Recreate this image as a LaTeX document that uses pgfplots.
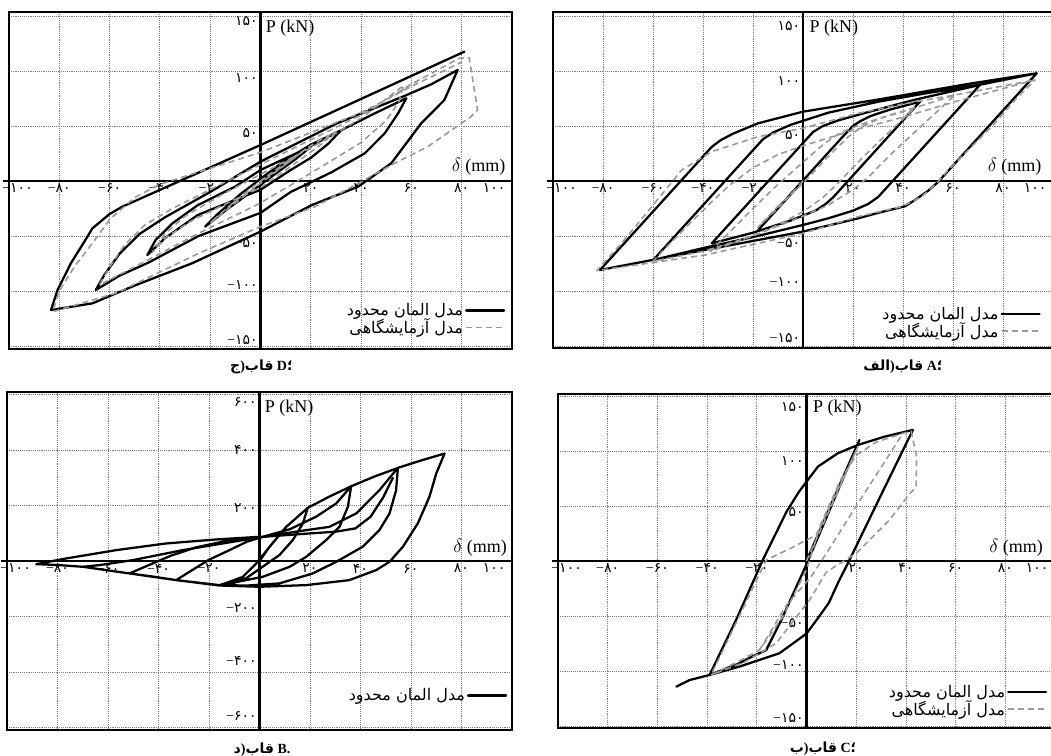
\documentclass[border=0pt]{standalone}
\usepackage{fontspec}
\setmainfont{Liberation Serif}
\newfontfamily\fa[Script=Arabic]{DejaVu Sans}
\TeXXeTstate=1
\usepackage{pgfplots}
\pgfplotsset{compat=1.18}

% Persian digits in their own box, minus sign kept outside in the text font
\newcommand\fd[1]{\hbox{\fa #1}}
\newcommand\mn{\hbox{−}}
% vertical nudge of a y tick label without changing its box
\newcommand\yl[2]{\raisebox{#1}[0pt][0pt]{#2}}
\newcommand\feleg{\hbox{\fa\beginR مدل المان محدود\endR}\hspace{6pt}}
\newcommand\exleg{\hbox{\fa\beginR مدل آزمایشگاهی\endR}\hspace{6pt}}

\tikzset{lbl/.style={inner sep=1pt, font=\fontsize{13.5}{14}\selectfont}}
\pgfplotsset{
  panel/.style={
    scale only axis, axis lines=center,
    axis line style={line width=1.9pt, -},
    xmin=-100, xmax=100,
    grid=major, grid style={densely dotted, black!50, line width=0.6pt},
    major tick length=0pt,
    tick label style={font=\fontsize{10.5}{11}\selectfont, inner sep=2pt},
    yticklabel style={anchor=east},
    xticklabel style={anchor=north},
    xtick={-100,-80,...,100},
    xticklabels={{\makebox[0pt][l]{\hspace{-5pt}\mn\fd{۱۰۰}}},{\mn\fd{۸۰}},{\mn\fd{۶۰}},{\mn\fd{۴۰}},{\mn\fd{۲۰}},{\makebox[0pt][r]{\fd{۰}\hspace{2pt}}},{\fd{۲۰}},{\fd{۴۰}},{\fd{۶۰}},{\fd{۸۰}},{\makebox[0pt][r]{\fd{۱۰۰}\hspace{5pt}}}},
    clip=false,
    legend plot pos=right,
    legend cell align=right,
    legend style={draw=none, fill=none, inner sep=0pt, row sep=-2pt,
      font=\fontsize{12}{13}\selectfont, anchor=south east,
      nodes={inner sep=1.5pt}},
    legend image code/.code={\draw[##1] (0cm,0cm) -- (1cm,0cm);},
  },
  fe/.style={black, line width=1.7pt, line join=round, line cap=round},
  ex/.style={black!40, line width=1.2pt, dash pattern=on 4.5pt off 3pt, line join=round},
}
\newcommand\frameit{%
  \draw[line width=2pt] (rel axis cs:0,0) rectangle (rel axis cs:1,1);
  \draw[line width=1.9pt] (axis cs:-102.5,0) -- (axis cs:-100,0);}

\begin{document}
\begin{tikzpicture}
\useasboundingbox (0,0) rectangle (788.25pt,567pt);

% ---------------- frame D (top left)
\begin{axis}[panel, at={(6.75pt,305.25pt)}, anchor=south west,
  width=377.25pt, height=252.75pt, ymin=-152.7, ymax=153.6,
  ytick={-150,-100,-50,50,100,150},
  yticklabels={{\yl{1.5pt}{\mn\fd{۱۵۰}}},{\yl{1.5pt}{\mn\fd{۱۰۰}}},{\yl{-8.5pt}{\mn\fd{۵۰}}},{\yl{-9pt}{\fd{۵۰}}},{\yl{-9pt}{\fd{۱۰۰}}},{\yl{-7.5pt}{\fd{۱۵۰}}}},
  legend style={at={(0.987,0.032)}}]
\addplot[fe] coordinates {(0,0) (10,16) (20,31) (14,20) (5,5) (-5,-12) (-14,-27) (-22,-41.5)
 (-17,-30) (-8,-12) (0,2) (10,19) (20,33) (32,46) (27,34) (20,21) (12,10) (0,-8) (-11,-18)
 (-25,-31) (-38,-52) (-45,-67.3) (-41.7,-53.6) (-35,-38.5) (-25,-22) (-10,-5) (0,10) (15,26)
 (32,46) (45,61) (58,75.2) (54.7,61.5) (49.4,43.3) (41.5,25.2) (28.3,8) (12,-10) (0,-29)
 (-24.6,-50) (-44.4,-74) (-56,-86) (-65.5,-99.1) (-62,-85) (-56,-66) (-48,-48) (-38,-33)
 (-20,-10) (0,17.6) (30,52) (58,78) (68,88) (78.4,100.9) (73.1,73.6) (63.9,52.4) (52,16.1)
 (38.8,-5.2) (20.3,-22) (0,-46) (-27.2,-74.8) (-50,-95) (-66.8,-111.2) (-83.3,-117.3)
 (-80.7,-99.1) (-75.4,-74.8) (-70,-55) (-66.8,-43) (-60,-30) (-54.9,-23.3) (0,32.7) (81.1,117.6)};
\addplot[ex] coordinates {(0,0) (10,15) (18,29) (10,15) (0,-2) (-10,-20) (-20,-38) (-12,-22)
 (0,0) (12,20) (22,35) (30,45) (24,33) (15,18) (0,-6) (-15,-22) (-28,-37) (-38,-52) (-43,-65)
 (-38,-48) (-30,-32) (-15,-12) (0,6) (20,30) (40,57) (57,87) (55,72) (50,55) (40,35) (25,14)
 (0,-20) (-25,-48) (-45,-72) (-64,-94.5) (-60,-78) (-54,-58) (-46,-40) (-35,-25) (0,15)
 (40,60) (60,88) (79,111.5) (83,112) (86.3,64.5) (83.7,58.5) (66.5,31.2) (53.3,16.1)
 (40.1,-0.6) (21.7,-23.3) (0,-41.5) (-24.6,-65.8) (-57.6,-102.1) (-82.6,-118.8) (-80,-100)
 (-74,-78) (-66,-54) (-60,-35) (-50,-15) (-40,-3) (0,26) (40,62) (60,86) (80,108)};
\addlegendentry{\feleg}
\addlegendentry{\exleg}
\frameit
\node[lbl, anchor=west] at (axis cs:1.5,139) {P (kN)};
\node[lbl, anchor=east] at (axis cs:98,12.7) {$\delta$ (mm)};
\end{axis}

% ---------------- frame A (top right)
\begin{axis}[panel, at={(414.75pt,306pt)}, anchor=south west,
  width=375pt, height=252pt, ymin=-151.8, ymax=153.6,
  ytick={-150,-100,-50,50,100,150},
  yticklabels={{\yl{3pt}{\mn\fd{۱۵۰}}},{\yl{3pt}{\mn\fd{۱۰۰}}},{\yl{-8.5pt}{\mn\fd{۵۰}}},{\yl{-10pt}{\fd{۵۰}}},{\yl{-11pt}{\fd{۱۰۰}}},{\yl{-11pt}{\fd{۱۵۰}}}},
  legend style={at={(0.976,0.018)}}]
\addplot[fe] coordinates {(0,0) (-17.9,-44.5) (0,0.5) (8,20.5) (16,40.5) (20,50) (23,54.5)
 (27,59) (35,65) (46.8,72.1) (18,0) (12,-15) (9,-21) (5,-27) (-5,-36) (-20,-47) (-36.5,-56.7)
 (4,44.5) (8,50) (14,55) (25,62) (45,74) (70.8,87.3) (30,-14.7) (26,-21) (20,-27) (10,-34)
 (0,-40) (-20,-51) (-40,-61) (-59.9,-71.8) (-16,38) (-12,44) (-5,51) (10,62) (30,72) (50,80)
 (70.8,87.5) (93.5,97.9) (54,-1) (50,-9) (45,-17) (40.8,-23) (30,-29) (22,-34) (0,-46)
 (-40,-63) (-81.2,-80.9) (-36.5,31) (-33,37) (-28,43) (-18,52.4) (0,63) (30,74) (66.8,88.5)
 (93.5,97.9)};
\addplot[ex] coordinates {(0,0) (-8,-20) (-18,-42) (-10,-23) (0,-2) (10,22) (18,40) (24,50)
 (32,58) (45,67) (38,52) (30,35) (22,17) (14,-2) (8,-15) (0,-28) (-12,-42) (-25,-54) (-37,-64)
 (-30,-48) (-20,-25) (-10,-3) (0,17) (8,33) (15,44) (25,53) (40,63) (60.8,78.2) (55,66)
 (45,45) (35,24) (26.8,5) (20,-8) (10,-22) (0,-32) (-20,-50) (-40,-64) (-60,-73) (-55,-61)
 (-45,-38) (-37,-20) (-30,-5) (-20,12) (-10,24) (0,32) (20,46) (40,58) (60.8,72) (80,84)
 (92.8,91.8) (84.8,73.6) (75.5,49.4) (66.1,28.2) (58.1,10) (54.1,-0.6) (47.5,-14.2)
 (39.5,-23.3) (22.1,-32.4) (0,-47.6) (-39.2,-67.3) (-82.5,-81.5) (-72,-55) (-60,-22)
 (-48.5,10) (-36.5,26.7) (-17.9,40.3) (0,47.9) (22,61.5) (40,70) (60.8,78.2) (92.8,91.8)};
\addlegendentry{\feleg}
\addlegendentry{\exleg}
\frameit
\node[lbl, anchor=west] at (axis cs:2,139) {P (kN)};
\node[lbl, anchor=east] at (axis cs:96,12.7) {$\delta$ (mm)};
\end{axis}

% ---------------- frame B (bottom left)
\begin{axis}[panel, at={(5.25pt,19.5pt)}, anchor=south west,
  width=378.75pt, height=253.5pt, ymin=-609, ymax=610,
  ytick={-600,-400,-200,200,400,600},
  yticklabels={{\yl{5pt}{\mn\fd{۶۰۰}}},{\yl{5pt}{\mn\fd{۴۰۰}}},{\yl{2.75pt}{\mn\fd{۲۰۰}}},{\yl{-4.75pt}{\fd{۲۰۰}}},{\yl{-3.25pt}{\fd{۴۰۰}}},{\yl{-8.5pt}{\fd{۶۰۰}}}},
  legend style={at={(0.991,0.074)}}]
\addplot[fe] coordinates {(0,0) (4,52) (10.6,124) (19.1,192) (17.2,136) (13.2,76) (7.9,22)
 (1.3,-20) (-5,-60) (-10,-78) (-15.8,-86.5) (-12,-75) (-6.6,-56.5) (-1.3,-8.4) (4,51.6)
 (10.6,123.6) (19.1,192) (27.5,232) (36.3,270) (35,196) (31.7,124) (26.4,76) (18.5,15.5)
 (11.9,-20.5) (1.3,-56.5) (-11.9,-80.4) (-15.8,-86.5) (-24,-78) (-33,-68.5) (-28,-40) (-20,5)
 (-11.9,39.6) (-5,70) (1.3,87.6) (12,115) (22.4,160) (30.4,208) (36.3,270) (45.5,305)
 (54.8,336) (54.1,256) (51.5,172) (47.5,112) (40.9,52) (30.4,-2.4) (21.1,-44.4) (7.9,-80.4)
 (-5,-88) (-15.8,-86.5) (-33,-68.5) (-42,-56) (-51.5,-44.4) (-44,-15) (-35,20) (-25,50)
 (-12,75) (1.3,87.6) (18.5,111.7) (27.7,123.6) (38.3,171.9) (47.5,255.9) (54.8,336.3)
 (64,363) (73.3,388) (70,316) (67.3,232) (62.7,136) (56.8,52) (51.5,-2.4) (46.2,-32.4)
 (35.6,-68.5) (18.5,-86.5) (0,-92.5) (-15.8,-88) (-33,-68.5) (-51.5,-44.4) (-70,-20.4)
 (-80,-14) (-88.4,-10.8) (-76.6,9.6) (-56.8,39.6) (-37,63.7) (-17.2,78.1) (0,87.7)};
\addlegendentry{\feleg}
\addplot[fe, forget plot] coordinates {(-70,-20.4) (-63.4,-14.4) (-50.2,3.6) (-30.4,39.6)
 (-10.6,69.7) (1.3,87.6) (20,100) (30,106) (38,118) (44,160) (49,230) (52.8,300)};
\frameit
\node[lbl, anchor=west] at (axis cs:1.5,551) {P (kN)};
\node[lbl, anchor=east] at (axis cs:98.6,47) {$\delta$ (mm)};
\end{axis}

% ---------------- frame C (bottom right)
\begin{axis}[panel, at={(418.5pt,21pt)}, anchor=south west,
  width=372.75pt, height=250.5pt, ymin=-151.8, ymax=151.8,
  ytick={-150,-100,-50,50,100,150},
  yticklabels={{\yl{2.75pt}{\mn\fd{۱۵۰}}},{\yl{1.25pt}{\mn\fd{۱۰۰}}},{\yl{-8.5pt}{\mn\fd{۵۰}}},{\yl{-7.75pt}{\fd{۵۰}}},{\yl{-10.75pt}{\fd{۱۰۰}}},{\yl{-12pt}{\fd{۱۵۰}}}},
  legend style={at={(0.985,0.024)}}]
\addplot[fe] coordinates {(0,0) (10,52) (21.3,110) (10,50) (0,-3) (-10,-53) (-16.2,-80.9)
 (-22,-87) (-28,-94) (-39,-103.6) (-28,-52) (-17.6,0.9) (-8,45) (-3,63) (0,72) (4.6,85.8)
 (12.6,97.9) (20.7,105.5) (31.4,113) (42.8,119.1) (30,60) (17.3,0.9) (12.6,-20.3) (9,-38)
 (4.6,-52) (0,-66) (-10.9,-83.9) (-27,-96) (-39,-103.6) (-47,-108.2) (-52.4,-114.2)};
\addplot[ex] coordinates {(0,0) (10,50) (20.7,104) (12,62) (5,28) (0,-8) (-9.5,-50.6)
 (-18.9,-80.9) (-28,-92) (-38.4,-103.6) (-27,-50) (-16.2,0.9) (-6,12) (3.9,23.6) (8,45)
 (14,75) (20,96) (28,108) (38.8,116) (42.1,118) (44.3,95) (44.1,67.5) (41.5,61) (33.4,37.3)
 (20,7) (8,-10) (1.2,-35.5) (-12.2,-74.8) (-25,-92) (-38.4,-103.6)};
\addlegendentry{\feleg}
\addlegendentry{\exleg}
\addplot[ex, forget plot] coordinates {(-18.9,-80.9) (-8,-40) (1.9,-14.2) (10,14) (20,50)
 (30,85) (38.8,116)};
\frameit
\node[lbl, anchor=west] at (axis cs:2,139) {P (kN)};
\node[lbl, anchor=east] at (axis cs:95.8,11.8) {$\delta$ (mm)};
\end{axis}

% ---------------- captions, pieces set left to right as printed
\begin{scope}[every node/.style={font=\bfseries\fontsize{10.5}{12}\selectfont, inner sep=0pt}]
\node at (196.1pt,291.75pt) {\hbox{\fa ج}\hbox{)}\hbox{\fa قاب}\ D\hbox{\fa ؛}};
\node at (677.25pt,291.75pt) {\hbox{\fa الف}\hbox{)}\hbox{\fa قاب}\ A\hbox{\fa ؛}};
\node at (196.5pt,4.5pt) {\hbox{\fa د}\hbox{)}\hbox{\fa قاب}\ B.};
\node at (617.25pt,5.25pt) {\hbox{\fa ب}\hbox{)}\hbox{\fa قاب}\ C\hbox{\fa ؛}};
\end{scope}
\end{tikzpicture}
\end{document}
